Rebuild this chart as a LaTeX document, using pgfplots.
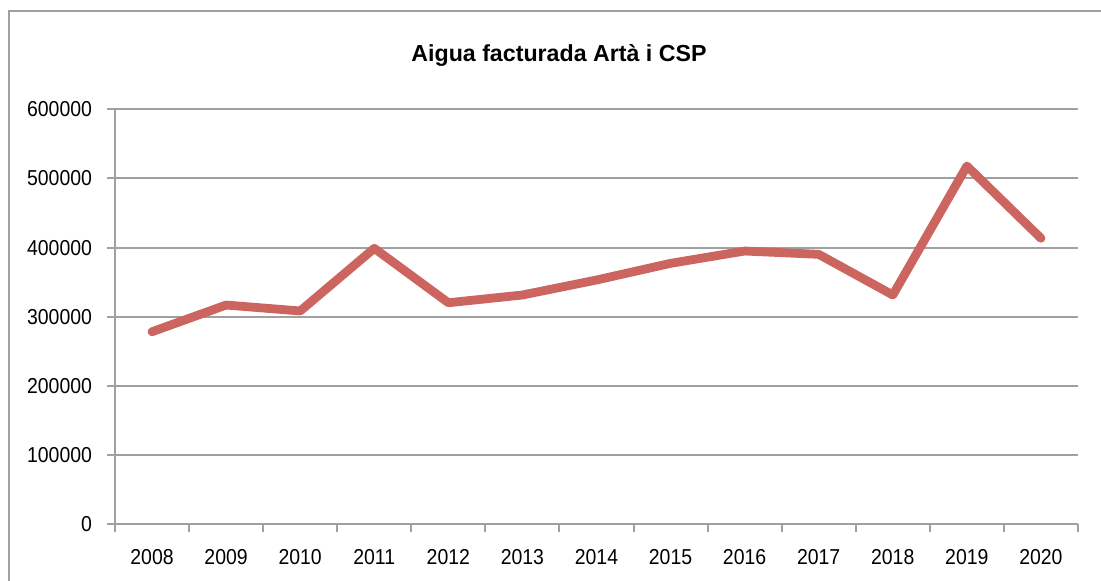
\documentclass[border=0pt]{standalone}
\usepackage{fontspec}
\setmainfont{Liberation Sans}[FakeStretch=0.9]
\newfontfamily\titlefont{Liberation Sans}
\usepackage{pgfplots}
\pgfplotsset{compat=1.18}
\definecolor{serie}{HTML}{CC6460}
\definecolor{eix}{HTML}{A0A0A0}
\begin{document}
\begin{tikzpicture}
\useasboundingbox (0,0) rectangle (550.5pt,290.5pt);
\draw[eix, line width=1pt] (4.5pt,-5pt) -- (4.5pt,285pt) -- (560pt,285pt);
\node[anchor=base, font=\titlefont\fontsize{11.6}{14}\selectfont\bfseries] at (279.5pt,259.5pt) {Aigua facturada Artà i CSP};
\begin{axis}[
  scale only axis,
  width=481.5pt, height=207.5pt,
  at={(57.5pt,28.35pt)}, anchor=south west,
  xmin=2007.5, xmax=2020.5,
  ymin=0, ymax=600000,
  xtick={2008,...,2020},
  minor xtick={2007.5,2008.5,...,2020.5},
  ytick={0,100000,...,600000},
  scaled y ticks=false,
  /pgf/number format/.cd, fixed, 1000 sep={}, assume math mode=true, /pgfplots/.cd,
  axis lines=left,
  axis line style={-, eix, line width=1pt},
  tick align=outside,
  tick style={eix, line width=1pt},
  major x tick style={draw=none},
  minor tick length=4pt,
  major tick length=4pt,
  ymajorgrids=true,
  grid style={eix, line width=1pt},
  tick label style={font=\fontsize{10.8}{12}\selectfont, text=black},
  x tick label style={yshift=-5pt},
  y tick label style={xshift=-4pt},
]
\addplot[serie, line width=4.4pt, line join=round, line cap=round] coordinates {
  (2008,278400) (2009,317000) (2010,308400) (2011,399000) (2012,320300)
  (2013,331500) (2014,353200) (2015,377300) (2016,395100) (2017,390300)
  (2018,331500) (2019,518000) (2020,413500)
};
\end{axis}
\end{tikzpicture}
\end{document}
